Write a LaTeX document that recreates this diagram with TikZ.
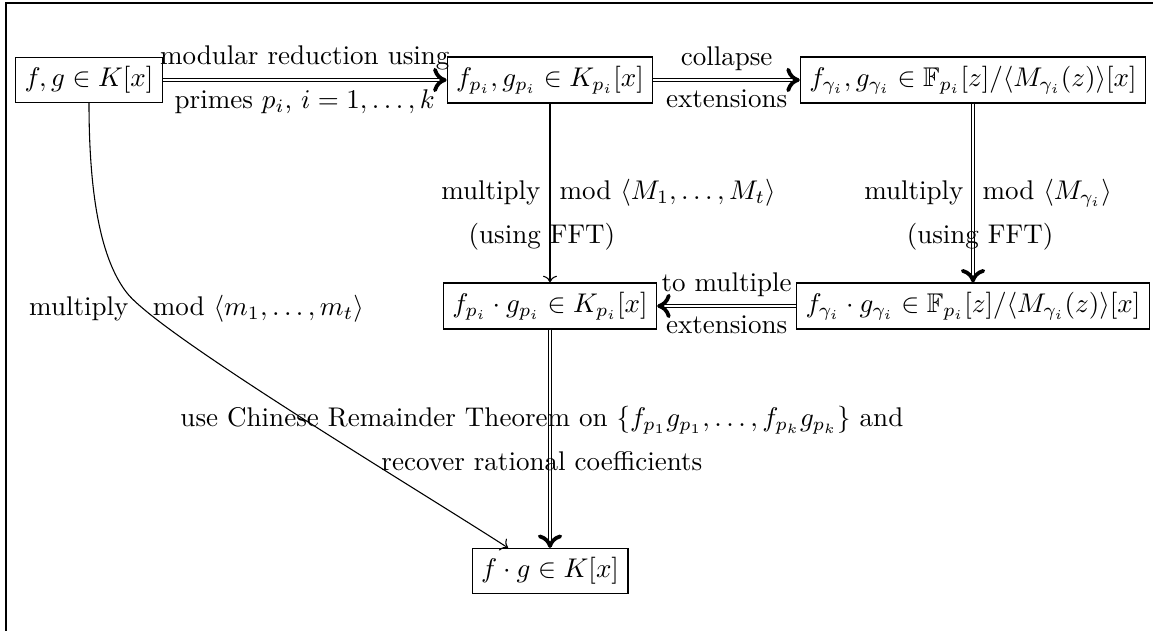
\documentclass[tikz,border=0pt]{standalone}
\usepackage{amsmath,amssymb}
\usetikzlibrary{arrows.meta}

\begin{document}
\begin{tikzpicture}[
    x=0.37pt, y=-0.37pt,
    box/.style={
        rectangle, draw, inner sep=3.33pt
    },
    map/.style={->},
    dmap/.style={double,
        -{Computer Modern Rightarrow[line width=1.4pt, length=5pt, width=9pt]}},
]

    % Column x-coordinates (y grows downwards in this picture)
    \def\xLeft{89}
    \def\xMid{550}
    \def\xRight{973}

    % Row y-coordinates.
    \def\yTop{80}
    \def\yMid{306}
    \def\yBot{571}

    \useasboundingbox (0,0) rectangle (1153,631);
    \draw (6,631) -- (6,3) -- (1153,3);

    % ---------- top row ----------
    \node[box] (fg) at (\xLeft,\yTop) {$f,g\in K[x]$};
    \node[box] (fgp) at (\xMid,\yTop) {$f_{p_i},g_{p_i}\in K_{p_i}[x]$};
    \node[box] (fgg) at (\xRight,\yTop) {$f_{\gamma_i},g_{\gamma_i}\in \mathbb{F}_{p_i}[z]/\langle M_{\gamma_i}(z)\rangle[x]$};

    % ---------- middle row ----------
    \node[box] (prodp) at (\xMid,\yMid) {$f_{p_i}\cdot g_{p_i}\in K_{p_i}[x]$};
    \node[box] (prodg) at (\xRight,\yMid) {$f_{\gamma_i}\cdot g_{\gamma_i}\in \mathbb{F}_{p_i}[z]/\langle M_{\gamma_i}(z)\rangle[x]$};

    % ---------- result ----------
    \node[box] (prod) at (\xMid,\yBot) {$f\cdot g\in K[x]$};

    \draw[dmap] (fg) -- node[above] {modular reduction using}
        node[below] {primes $p_i$, $i=1,\ldots,k$} (fgp);
    \draw[dmap] (fgp) -- node[above] {collapse} node[below] {extensions} (fgg);

    \draw[map] (fgp) -- node[left] {multiply}
        node[right] {mod $\langle M_1,\ldots,M_t\rangle$}
        node[yshift=-16.3pt, xshift=-3pt] {(using FFT)} (prodp);
    \draw[dmap] (fgg) -- node[left] {multiply}
        node[right] {mod $\langle M_{\gamma_i}\rangle$}
        node[yshift=-16.3pt, xshift=2.6pt] {(using FFT)} (prodg);

    \draw[dmap] (prodg) -- node[above] {to multiple} node[below] {extensions} (prodp);

    \draw[dmap] (prodp) -- node[align=center, xshift=-3pt]
        {use Chinese Remainder Theorem on $\{f_{p_1}g_{p_1},\ldots,f_{p_k}g_{p_k}\}$ and\\[4.3pt]
         recover rational coefficients} (prod);

    % direct multiplication
    \coordinate (bend) at (127,293);
    \draw[map] (fg.south) .. controls +(0,107) and +(-22,-28) .. (bend)
        .. controls +(33,42) and +(-88,-57) ..
        node[pos=0.1, left, xshift=-2pt] {multiply}
        node[pos=0.1, right] {mod $\langle m_1,\ldots,m_t\rangle$}
        ([xshift=-15.5pt]prod.north);

\end{tikzpicture}
\end{document}
